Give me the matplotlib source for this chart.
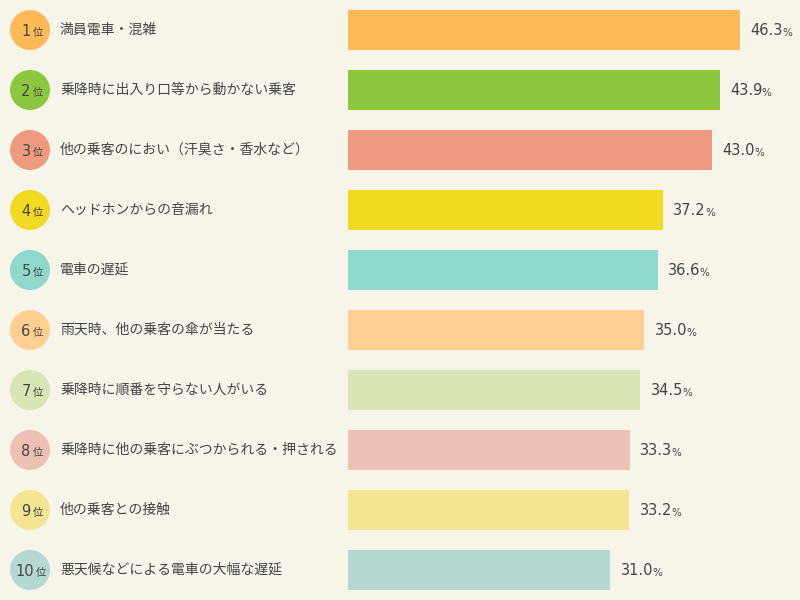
import matplotlib
matplotlib.use("Agg")
import matplotlib.pyplot as plt

plt.rcParams['font.family'] = ['Noto Sans CJK JP', 'DejaVu Sans']

ranks = [1, 2, 3, 4, 5, 6, 7, 8, 9, 10]
labels = [
    "満員電車・混雑",
    "乗降時に出入り口等から動かない乗客",
    "他の乗客のにおい（汗臭さ・香水など）",
    "ヘッドホンからの音漏れ",
    "電車の遅延",
    "雨天時、他の乗客の傘が当たる",
    "乗降時に順番を守らない人がいる",
    "乗降時に他の乗客にぶつかられる・押される",
    "他の乗客との接触",
    "悪天候などによる電車の大幅な遅延",
]
values = [46.3, 43.9, 43.0, 37.2, 36.6, 35.0, 34.5, 33.3, 33.2, 31.0]
colors = ["#FFB957", "#8DC63F", "#ED9A7E", "#F3DA22", "#8FD8CB",
          "#FFD092", "#D8E6B5", "#EDC2B5", "#F3E591", "#B5D9D2"]

BG = "#F7F5E9"
TXT = "#444444"
PX = 8.466  # pixels per percent
bar_left_px = 348
W, H = 800, 600

fig = plt.figure(figsize=(8, 6), dpi=100, facecolor=BG)
ax = fig.add_axes([0, 0, 1, 1])
ax.set_facecolor(BG)
ax.set_xlim(-bar_left_px / PX, (W - bar_left_px) / PX)
ax.set_ylim(len(values) - 0.5, -0.5)
ax.axis('off')

ypos = list(range(len(values)))
ax.barh(ypos, values, height=40 / 60, left=0, color=colors, edgecolor='none')

circle_x = (30 - bar_left_px) / PX
label_x = (60 - bar_left_px) / PX
ax.scatter([circle_x] * len(ranks), ypos, s=(40 * 0.72) ** 2, c=colors,
           edgecolors='none', zorder=3)

for y, r, lab, v in zip(ypos, ranks, labels, values):
    # rank number + 位
    num_right = 0.5 if r < 10 else 2.8  # points right of circle centre
    tn = ax.annotate(str(r), (circle_x, y), xytext=(num_right, -4.2), textcoords='offset points',
                     ha='right', va='baseline', fontsize=10.5, color=TXT,
                     family='DejaVu Sans', zorder=4)
    ax.annotate("位", (1, 0), xycoords=tn, xytext=(1.3, 0.4), textcoords='offset points',
                ha='left', va='bottom', fontsize=7.5, color=TXT, zorder=4)
    ax.text(label_x, y, lab, ha='left', va='center', fontsize=10, color=TXT)
    tv = ax.annotate(f"{v:.1f}", (v, y), xytext=(7.5, -3.9), textcoords='offset points',
                     ha='left', va='baseline', fontsize=10.5, color=TXT, family='DejaVu Sans')
    ax.annotate("%", (1, 0), xycoords=tv, xytext=(-0.6, 0.25), textcoords='offset points',
                ha='left', va='bottom', fontsize=7.5, color=TXT, family='DejaVu Sans')

fig.savefig("out.png", dpi=100, facecolor=BG)
